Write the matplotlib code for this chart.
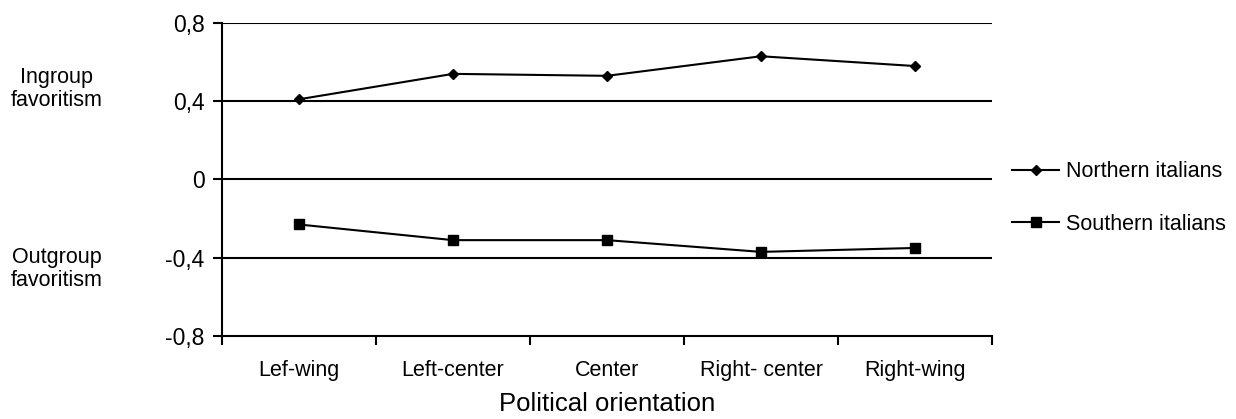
import matplotlib
matplotlib.use("Agg")
import matplotlib.pyplot as plt

categories = ["Lef-wing", "Left-center", "Center", "Right- center", "Right-wing"]
northern = [0.41, 0.54, 0.53, 0.63, 0.58]
southern = [-0.23, -0.31, -0.31, -0.37, -0.35]
yticks = [-0.8, -0.4, 0, 0.4, 0.8]
ytick_labels = ["-0,8", "-0,4", "0", "0,4", "0,8"]

plt.rcParams["font.family"] = ["Liberation Sans", "DejaVu Sans"]

fig = plt.figure(figsize=(12.36, 4.19), dpi=100)
ax = fig.add_axes([222 / 1236, 1 - 336 / 419, (992 - 222) / 1236, (336 - 23) / 419])

x = list(range(len(categories)))
ax.plot(x, northern, color="black", lw=1.5, marker="D", ms=5.5, label="Northern italians")
ax.plot(x, southern, color="black", lw=1.5, marker="s", ms=7.5, label="Southern italians")

ax.set_xlim(-0.5, len(categories) - 0.5)
ax.set_ylim(-0.8, 0.8)
for y in yticks[1:]:
    ax.axhline(y, color="black", lw=1.5, zorder=0)

ax.set_yticks(yticks)
ax.set_yticklabels(ytick_labels, fontsize=16.5)
ax.set_xticks([i - 0.5 for i in range(len(categories) + 1)])
ax.set_xticklabels([])
ax.set_xticks(x, minor=True)
ax.set_xticklabels(categories, minor=True, fontsize=15.5)
ax.tick_params(axis="x", which="minor", length=0, pad=17)
ax.tick_params(axis="x", which="major", length=6.5, width=1.5, direction="out")
ax.tick_params(axis="y", length=6.5, width=1.5, direction="out", pad=6)

for s in ["top", "right"]:
    ax.spines[s].set_visible(False)
for s in ["left", "bottom"]:
    ax.spines[s].set_linewidth(1.5)

ax.set_xlabel("Political orientation", fontsize=18.5, labelpad=8)

fig.text(57 / 1236, 1 - 89 / 419, "Ingroup\nfavoritism", ha="center", va="center", fontsize=15.5, linespacing=1.12)
fig.text(57 / 1236, 1 - 269 / 419, "Outgroup\nfavoritism", ha="center", va="center", fontsize=15.5, linespacing=1.12)

ax.legend(loc="center left", bbox_to_anchor=(1012 / 1236, 1 - 198 / 419), bbox_transform=fig.transFigure,
          frameon=False, fontsize=15.5, labelspacing=1.45, handlelength=2.2, handletextpad=0.3,
          borderaxespad=0, borderpad=0)

fig.savefig("out.png", dpi=100)
